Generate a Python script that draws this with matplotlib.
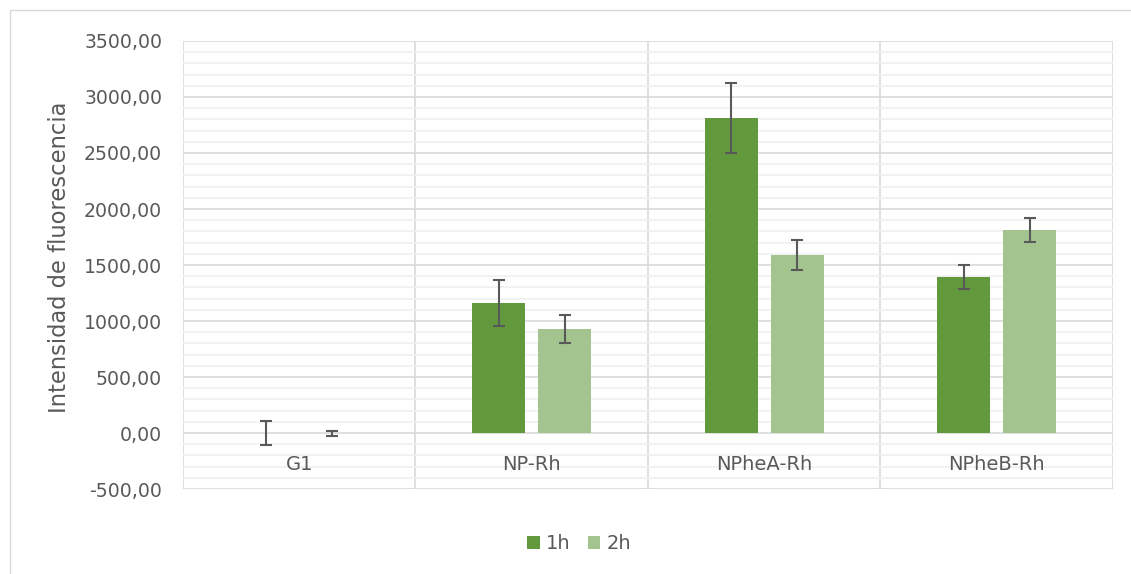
import matplotlib
matplotlib.use("Agg")
import matplotlib.pyplot as plt
import numpy as np
from matplotlib.ticker import MultipleLocator, FuncFormatter
from matplotlib.patches import Rectangle

categories = ["G1", "NP-Rh", "NPheA-Rh", "NPheB-Rh"]
series_names = ["1h", "2h"]
values_1h = [0.0, 1165.0, 2812.0, 1395.0]
values_2h = [0.0, 930.0, 1592.0, 1812.0]
err_1h = [105.0, 205.0, 314.0, 105.0]
err_2h = [22.0, 125.0, 135.0, 110.0]
y_ticks = [-500, 0, 500, 1000, 1500, 2000, 2500, 3000, 3500]

colors = ["#62993C", "#A3C48F"]
text_color = "#595959"
font = "DejaVu Sans"

fig = plt.figure(figsize=(11.31, 5.74), dpi=100)
ax = fig.add_axes([0.1618, 0.148, 0.8222, 0.7806])

x = np.arange(len(categories))
width = 0.228
offset = 0.142
for vals, errs, col, name, sgn in [(values_1h, err_1h, colors[0], series_names[0], -1),
                                   (values_2h, err_2h, colors[1], series_names[1], 1)]:
    ax.bar(x + sgn * offset, vals, width, color=col, label=name, zorder=3)
    ax.errorbar(x + sgn * offset, vals, yerr=errs, fmt="none", ecolor=text_color,
                elinewidth=1.5, capsize=4.3, capthick=1.5, zorder=4)

ax.set_xlim(-0.5, len(categories) - 0.5)
ax.set_ylim(y_ticks[0], y_ticks[-1])
ax.yaxis.set_major_locator(MultipleLocator(500))
ax.yaxis.set_minor_locator(MultipleLocator(100))
ax.yaxis.set_major_formatter(FuncFormatter(lambda v, p: f"{v:.2f}".replace(".", ",")))
ax.grid(axis="y", which="major", color="#D9D9D9", linewidth=1.2, zorder=0)
ax.grid(axis="y", which="minor", color="#F0F0F0", linewidth=1.2, zorder=0)
for b in np.arange(-0.5, len(categories), 1.0):
    ax.axvline(b, color="#D9D9D9", linewidth=1.2, zorder=1)

for s in ax.spines.values():
    s.set_visible(False)
ax.tick_params(axis="y", which="both", length=0, labelsize=13.6, labelcolor=text_color, pad=15)
ax.tick_params(axis="x", length=0, labelbottom=False)
for lbl in ax.get_yticklabels():
    lbl.set_fontfamily(font)

# category names sit just under the zero line
for xi, c in zip(x, categories):
    ax.text(xi, -277, c, ha="center", va="center", fontsize=14, color=text_color,
            fontfamily=font)

fig.text(0.053, 0.551, "Intensidad de fluorescencia", rotation=90,
         ha="center", va="center", fontsize=16.3, color=text_color, fontfamily=font)

leg = fig.legend(loc="center", bbox_to_anchor=(0.512, 0.053), ncol=2, frameon=False,
                 handlelength=0.65, handleheight=0.65, handletextpad=0.3, columnspacing=0.9,
                 prop={"family": font, "size": 14})
for t in leg.get_texts():
    t.set_color(text_color)

fig.patches.append(Rectangle((0.009, -0.02), 1.2, 1.003, transform=fig.transFigure,
                             fill=False, edgecolor="#D9D9D9", linewidth=1.0))

fig.savefig("out.png", dpi=100)
